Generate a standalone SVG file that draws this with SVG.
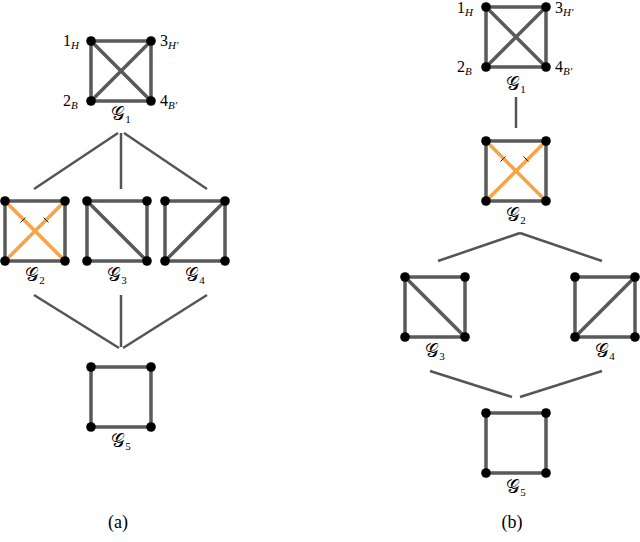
<svg xmlns="http://www.w3.org/2000/svg" width="640" height="542" viewBox="0 0 640 542">
<style>
.e{stroke:#5a5a5a;stroke-width:3.5;fill:none;stroke-linecap:round}
.o{stroke:#f7a346;stroke-width:3.5;fill:none;stroke-linecap:round}
.t{stroke:#222;stroke-width:1}
.c{stroke:#555;stroke-width:2.5;fill:none}
.n{fill:#000}
text{font-family:"Liberation Serif","DejaVu Serif",serif;fill:#000}
.lb{font-size:16px}
.sb{font-size:11px;font-style:italic}
.g{font-size:19px}
.gs{font-size:11px}
.cap{font-size:18px}
</style>
<defs>
<g id="nodes">
<circle class="n" cx="0" cy="0" r="4.8"/><circle class="n" cx="60" cy="0" r="4.8"/><circle class="n" cx="0" cy="60" r="4.8"/><circle class="n" cx="60" cy="60" r="4.8"/>
</g>
<path id="sq" class="e" d="M0,0H60V60H0Z"/>
</defs>

<g id="connectors">
<line class="c" x1="118" y1="133" x2="34" y2="189"/>
<line class="c" x1="121" y1="133" x2="121" y2="189"/>
<line class="c" x1="124" y1="133" x2="207" y2="189"/>
<line class="c" x1="34" y1="295" x2="119" y2="348"/>
<line class="c" x1="121" y1="295" x2="121" y2="347"/>
<line class="c" x1="207" y1="295" x2="123" y2="348"/>
<line class="c" x1="516" y1="97" x2="516" y2="128"/>
<line class="c" x1="438" y1="261" x2="520" y2="233"/>
<line class="c" x1="520" y1="233" x2="602" y2="261"/>
<line class="c" x1="430" y1="371" x2="512" y2="397"/>
<line class="c" x1="602" y1="371" x2="520" y2="397"/>
</g>

<g id="a-G1" transform="translate(91,41)">
<use href="#sq"/><line class="e" x1="0" y1="0" x2="60" y2="60"/><line class="e" x1="60" y1="0" x2="0" y2="60"/><use href="#nodes"/>
<text class="lb" x="-28" y="5">1<tspan class="sb" dy="3">H</tspan></text>
<text class="lb" x="69" y="5">3<tspan class="sb" dy="3">H′</tspan></text>
<text class="lb" x="-28" y="65">2<tspan class="sb" dy="3">B</tspan></text>
<text class="lb" x="69" y="65">4<tspan class="sb" dy="3">B′</tspan></text>
<text class="g" x="30" y="79" text-anchor="middle">𝒢<tspan class="gs" dy="3">1</tspan></text>
</g>

<g id="a-G2" transform="translate(5,201)">
<use href="#sq"/><line class="o" x1="0" y1="0" x2="60" y2="60"/><line class="o" x1="60" y1="0" x2="0" y2="60"/>
<line class="t" x1="15.5" y1="21.5" x2="20.5" y2="16.5"/><line class="t" x1="38.5" y1="16.5" x2="43.5" y2="21.5"/>
<use href="#nodes"/>
<text class="g" x="30" y="80" text-anchor="middle">𝒢<tspan class="gs" dy="3">2</tspan></text>
</g>

<g id="a-G3" transform="translate(87,201)">
<use href="#sq"/><line class="e" x1="0" y1="0" x2="60" y2="60"/><use href="#nodes"/>
<text class="g" x="30" y="80" text-anchor="middle">𝒢<tspan class="gs" dy="3">3</tspan></text>
</g>

<g id="a-G4" transform="translate(165,201)">
<use href="#sq"/><line class="e" x1="60" y1="0" x2="0" y2="60"/><use href="#nodes"/>
<text class="g" x="30" y="80" text-anchor="middle">𝒢<tspan class="gs" dy="3">4</tspan></text>
</g>

<g id="a-G5" transform="translate(91,367)">
<use href="#sq"/><use href="#nodes"/>
<text class="g" x="30" y="80" text-anchor="middle">𝒢<tspan class="gs" dy="3">5</tspan></text>
</g>

<g id="b-G1" transform="translate(486,7)">
<use href="#sq"/><line class="e" x1="0" y1="0" x2="60" y2="60"/><line class="e" x1="60" y1="0" x2="0" y2="60"/><use href="#nodes"/>
<text class="lb" x="-29" y="6">1<tspan class="sb" dy="3">H</tspan></text>
<text class="lb" x="69" y="6">3<tspan class="sb" dy="3">H′</tspan></text>
<text class="lb" x="-29" y="65">2<tspan class="sb" dy="3">B</tspan></text>
<text class="lb" x="69" y="65">4<tspan class="sb" dy="3">B′</tspan></text>
<text class="g" x="30" y="83" text-anchor="middle">𝒢<tspan class="gs" dy="3">1</tspan></text>
</g>

<g id="b-G2" transform="translate(486,141)">
<use href="#sq"/><line class="o" x1="0" y1="0" x2="60" y2="60"/><line class="o" x1="60" y1="0" x2="0" y2="60"/>
<line class="t" x1="14.5" y1="20.5" x2="19.5" y2="15.5"/><line class="t" x1="37.5" y1="15.5" x2="42.5" y2="20.5"/>
<use href="#nodes"/>
<text class="g" x="30" y="80" text-anchor="middle">𝒢<tspan class="gs" dy="3">2</tspan></text>
</g>

<g id="b-G3" transform="translate(405,277)">
<use href="#sq"/><line class="e" x1="0" y1="0" x2="60" y2="60"/><use href="#nodes"/>
<text class="g" x="30" y="80" text-anchor="middle">𝒢<tspan class="gs" dy="3">3</tspan></text>
</g>

<g id="b-G4" transform="translate(575,277)">
<use href="#sq"/><line class="e" x1="60" y1="0" x2="0" y2="60"/><use href="#nodes"/>
<text class="g" x="30" y="80" text-anchor="middle">𝒢<tspan class="gs" dy="3">4</tspan></text>
</g>

<g id="b-G5" transform="translate(486,413)">
<use href="#sq"/><use href="#nodes"/>
<text class="g" x="30" y="80" text-anchor="middle">𝒢<tspan class="gs" dy="3">5</tspan></text>
</g>

<text class="cap" x="118" y="528" text-anchor="middle">(a)</text>
<text class="cap" x="512" y="528" text-anchor="middle">(b)</text>
</svg>
